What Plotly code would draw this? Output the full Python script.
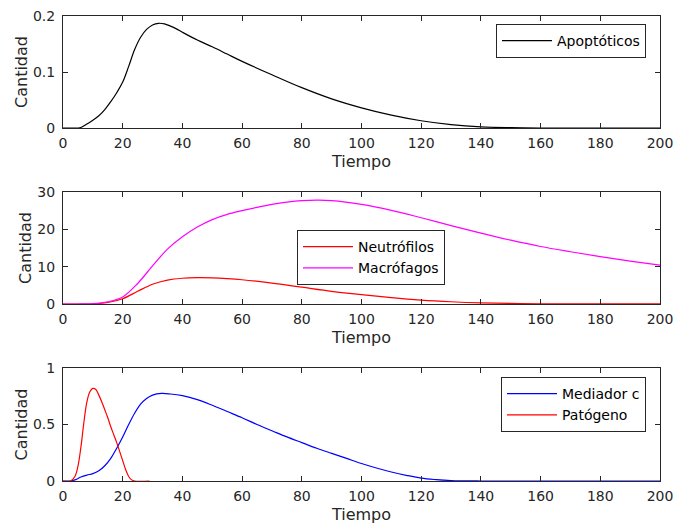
import plotly.graph_objects as go
from plotly.subplots import make_subplots

# ---- data ----
t_apo = [0, 5, 6, 8, 10, 12, 14, 16, 18, 20, 22, 24, 26, 28, 30, 32, 34, 36, 38, 40, 45, 50, 55, 60,
         70, 80, 90, 100, 110, 120, 130, 140, 150, 160, 200]
apoptoticos = [0, 0, 0.001, 0.007, 0.014, 0.022, 0.033, 0.047, 0.063, 0.082, 0.11, 0.14, 0.162, 0.176,
               0.184, 0.187, 0.186, 0.182, 0.177, 0.171, 0.157, 0.145, 0.132, 0.119, 0.095, 0.072,
               0.052, 0.036, 0.023, 0.013, 0.006, 0.002, 0.0005, 0, 0]

t_neu = [0, 5, 10, 15, 20, 25, 30, 35, 40, 45, 50, 55, 60, 70, 80, 90, 100, 110, 120, 130, 140, 150,
         160, 180, 200]
neutrofilos = [0, 0, 0.05, 0.4, 1.4, 3.4, 5.3, 6.4, 6.9, 7.05, 7.0, 6.8, 6.5, 5.6, 4.5, 3.4, 2.5, 1.7,
               1.05, 0.6, 0.3, 0.15, 0.07, 0.02, 0.01]

t_mac = [0, 5, 10, 15, 20, 25, 30, 35, 40, 45, 50, 55, 60, 65, 70, 75, 80, 85, 90, 100, 110, 120, 130,
         140, 150, 160, 170, 180, 190, 200]
macrofagos = [0, 0, 0.1, 0.6, 1.9, 5.5, 10.2, 14.7, 18.0, 20.6, 22.6, 24.0, 25.0, 25.9, 26.7, 27.3,
              27.7, 27.8, 27.7, 26.7, 25.1, 23.1, 21.0, 19.0, 17.1, 15.4, 14.0, 12.7, 11.5, 10.4]

t_med = [0, 2.5, 4, 6, 8, 10, 12, 14, 16, 18, 20, 22, 24, 26, 28, 30, 33, 36, 40, 45, 50, 55, 60, 65,
         70, 75, 80, 85, 90, 95, 100, 105, 110, 115, 120, 125, 130, 140, 200]
mediador = [0, 0, 0.01, 0.035, 0.052, 0.065, 0.09, 0.135, 0.2, 0.29, 0.39, 0.5, 0.6, 0.68, 0.73, 0.76,
            0.775, 0.77, 0.755, 0.72, 0.67, 0.615, 0.56, 0.5, 0.445, 0.39, 0.34, 0.29, 0.245, 0.2,
            0.155, 0.115, 0.08, 0.05, 0.025, 0.012, 0.004, 0, 0]

t_pat = [0, 2.5, 4, 5, 6, 7, 8, 9, 10, 11, 12, 13, 14, 15, 16, 17, 18, 19, 20, 21, 22, 23, 24, 29]
patogeno = [0, 0, 0.04, 0.13, 0.3, 0.52, 0.7, 0.79, 0.82, 0.81, 0.76, 0.7, 0.63, 0.56, 0.48, 0.41,
            0.34, 0.26, 0.18, 0.1, 0.04, 0.01, 0, 0]

x_ticks = [0, 20, 40, 60, 80, 100, 120, 140, 160, 180, 200]
y1_ticks = [0, 0.1, 0.2]
y1_labels = ["0", "0.1", "0.2"]
y2_ticks = [0, 10, 20, 30]
y3_ticks = [0, 0.5, 1]
y3_labels = ["0", "0.5", "1"]

# ---- figure ----
W, H = 678, 526
ML, MR, MT, MB = 63, 18, 16, 45
PH = H - MT - MB


def dom(top_px, bot_px):
    return [1 - (bot_px - MT) / PH, 1 - (top_px - MT) / PH]


fig = make_subplots(rows=3, cols=1)

FONT = "DejaVu Sans"
AX = "#262626"
LW = 1.2


def line(color):
    return dict(color=color, width=LW, shape="spline", smoothing=1)


fig.add_trace(go.Scatter(x=t_apo, y=apoptoticos, mode="lines", name="Apoptóticos",
                         line=line("black"), legend="legend", showlegend=True), row=1, col=1)
fig.add_trace(go.Scatter(x=t_neu, y=neutrofilos, mode="lines", name="Neutrófilos",
                         line=line("#ff0000"), legend="legend2", showlegend=True), row=2, col=1)
fig.add_trace(go.Scatter(x=t_mac, y=macrofagos, mode="lines", name="Macrófagos",
                         line=line("#ff00ff"), legend="legend2", showlegend=True), row=2, col=1)
fig.add_trace(go.Scatter(x=t_med, y=mediador, mode="lines", name="Mediador c",
                         line=line("#0000ff"), legend="legend3", showlegend=True), row=3, col=1)
fig.add_trace(go.Scatter(x=t_pat, y=patogeno, mode="lines", name="Patógeno",
                         line=line("#ff0000"), legend="legend3", showlegend=True), row=3, col=1)

common_x = dict(range=[0, 200], tickvals=x_ticks, ticks="inside", ticklen=5, tickcolor=AX,
                showline=True, linecolor=AX, linewidth=1, mirror="ticks", showgrid=False,
                zeroline=False, tickfont=dict(family=FONT, size=14, color=AX),
                ticklabelstandoff=2, automargin=False,
                title=dict(text="Tiempo", font=dict(family=FONT, size=16, color=AX), standoff=6),
                domain=[0, 1])
common_y = dict(ticks="inside", ticklen=5, tickcolor=AX, showline=True, linecolor=AX, linewidth=1,
                mirror="ticks", showgrid=False, zeroline=False, automargin=False,
                ticklabelstandoff=4,
                tickfont=dict(family=FONT, size=14, color=AX),
                title=dict(text="Cantidad", font=dict(family=FONT, size=16, color=AX), standoff=1))

fig.update_xaxes(**common_x)
fig.update_yaxes(**common_y)

fig.update_yaxes(range=[0, 0.2], tickvals=y1_ticks, ticktext=y1_labels, domain=dom(16, 128), row=1, col=1)
fig.update_yaxes(range=[0, 30], tickvals=y2_ticks, domain=dom(192, 304), row=2, col=1)
fig.update_yaxes(range=[0, 1], tickvals=y3_ticks, ticktext=y3_labels, domain=dom(368, 481), row=3, col=1)

leg_common = dict(bgcolor="white", bordercolor=AX, borderwidth=1,
                  font=dict(family=FONT, size=14, color="black"), itemwidth=50,
                  tracegroupgap=0, visible=True)
fig.update_layout(
    width=W, height=H,
    showlegend=True,
    margin=dict(l=ML, r=MR, t=MT, b=MB, autoexpand=False),
    paper_bgcolor="white", plot_bgcolor="white",
    legend=dict(x=(646 - ML) / 597, xanchor="right", y=1 - (24 - MT) / PH, yanchor="top", **leg_common),
    legend2=dict(x=(297 - ML) / 597, xanchor="left", y=1 - (230 - MT) / PH, yanchor="top", **leg_common),
    legend3=dict(x=(646 - ML) / 597, xanchor="right", y=1 - (377 - MT) / PH, yanchor="top", **leg_common),
)

fig.write_html("out.html", config={"displayModeBar": False},
               post_script="document.body.style.margin='0';document.body.style.overflow='hidden';")
